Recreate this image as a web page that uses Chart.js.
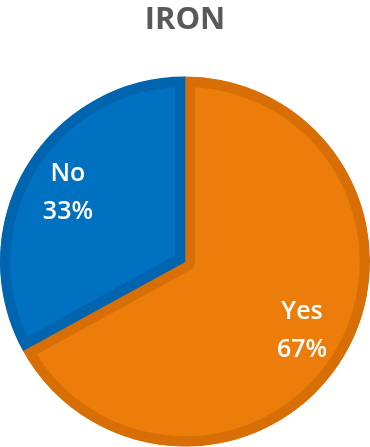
<!DOCTYPE html>
<html>
<head>
<meta charset="utf-8">
<script src="https://cdn.jsdelivr.net/npm/chart.js@4"></script>
<style>
  html, body { margin: 0; padding: 0; background: #fff; }
  #wrap { width: 370px; height: 447px; }
</style>
</head>
<body>
<div id="wrap"><canvas id="ironChart" width="370" height="447"></canvas></div>
<script>
var categories = ['Yes', 'No'];
var values = [67, 33];
var percentLabels = ['67%', '33%'];
var fillColors = ['#ED7D0A', '#0070C0'];
var borderColors = ['#D86F06', '#0064AE'];

// white two-line labels inside each slice
var sliceLabels = {
  id: 'sliceLabels',
  afterDatasetsDraw: function (chart) {
    var ctx = chart.ctx;
    var arcs = chart.getDatasetMeta(0).data;
    ctx.save();
    ctx.fillStyle = '#ffffff';
    ctx.font = '600 25px "Open Sans"';
    ctx.textAlign = 'center';
    ctx.textBaseline = 'middle';
    arcs.forEach(function (arc, i) {
      var p = arc.getProps(['x', 'y', 'startAngle', 'endAngle', 'outerRadius'], true);
      var mid = (p.startAngle + p.endAngle) / 2;
      var r = p.outerRadius * 0.735;
      var cx = p.x + Math.cos(mid) * r;
      var cy = p.y + Math.sin(mid) * r;
      ctx.fillText(categories[i], cx, cy - 19);
      ctx.fillText(percentLabels[i], cx, cy + 19);
    });
    ctx.restore();
  }
};

new Chart(document.getElementById('ironChart'), {
  type: 'pie',
  data: {
    labels: categories,
    datasets: [{
      data: values,
      backgroundColor: fillColors,
      borderColor: borderColors,
      borderWidth: 10,
      borderAlign: 'inner',
      hoverOffset: 0,
      offset: 0
    }]
  },
  options: {
    responsive: false,
    animation: false,
    events: [],
    layout: { padding: 0 },
    plugins: {
      legend: { display: false },
      tooltip: { enabled: false },
      title: {
        display: true,
        text: 'IRON',
        color: '#595959',
        font: { family: '"Open Sans"', size: 31, weight: 'bold' },
        padding: { top: 2, bottom: 37 }
      }
    }
  },
  plugins: [sliceLabels]
});
</script>
</body>
</html>
